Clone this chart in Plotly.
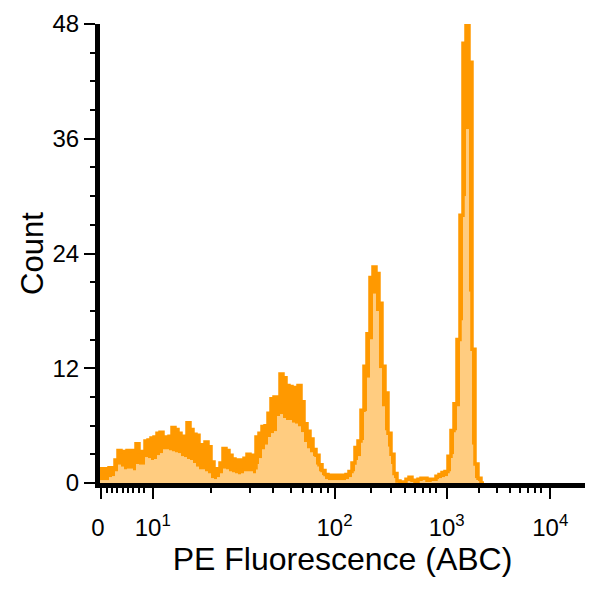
import numpy as np
import plotly.graph_objects as go

# histogram counts per display channel (top of the noisy trace and its floor)
counts_upper = [
    1.5, 1.5, 1.2, 1.6, 1.6, 2.4, 3.4, 3.3, 2.5, 3.4,
    3.4, 2.5, 4.1, 3.3, 3.2, 4.4, 4.5, 4.7, 4.8, 5.2,
    5.3, 4.7, 4.8, 4.9, 5.8, 5.6, 5.2, 4.9, 4.8, 6.3,
    5.6, 5.1, 5.0, 4.0, 3.7, 4.3, 3.8, 2.2, 1.5, 1.5,
    2.1, 3.6, 3.4, 2.9, 2.5, 2.4, 1.7, 2.4, 2.6, 3.0,
    2.9, 1.6, 4.8, 5.2, 5.9, 6.0, 7.3, 8.8, 9.0, 8.5,
    11.4, 11.0, 10.2, 10.1, 9.6, 10.0, 10.2, 8.5, 6.2, 5.4,
    4.6, 3.5, 2.9, 1.9, 1.3, 0.9, 0.8, 0.8, 0.6, 0.8,
    0.7, 0.8, 0.9, 1.2, 2.1, 3.7, 4.4, 7.6, 12.2, 15.6,
    21.5, 22.6, 21.9, 18.8, 12.2, 9.4, 5.2, 3.0, 1.0, 0.2,
    0.1, 0.1, 0.4, 0.6, 0.3, 0.1, 0.4, 0.5, 0.5, 0.3,
    0.4, 0.4, 0.7, 0.9, 1.1, 1.2, 2.8, 5.5, 8.3, 15.0,
    28.0, 46.0, 48.0, 44.0, 14.0, 2.0, 0.5, 0.0,
]
counts_lower = [
    0.3, 0.3, 0.3, 0.6, 0.7, 1.2, 1.9, 1.7, 1.4, 1.5,
    1.5, 1.3, 2.0, 1.9, 1.9, 2.7, 2.6, 2.4, 2.5, 2.9,
    3.1, 3.5, 3.5, 3.4, 3.3, 3.2, 3.1, 2.8, 2.7, 2.5,
    2.4, 2.1, 1.7, 1.4, 1.4, 1.2, 1.0, 0.5, 0.4, 0.6,
    1.0, 1.5, 1.4, 1.2, 1.1, 1.0, 0.9, 1.0, 1.2, 1.2,
    1.2, 1.0, 2.0, 2.6, 3.5, 4.0, 4.8, 5.2, 5.4, 7.0,
    7.2, 6.8, 6.6, 6.6, 6.3, 6.2, 5.9, 5.3, 4.3, 3.6,
    3.2, 2.8, 1.9, 1.2, 0.8, 0.4, 0.3, 0.3, 0.3, 0.3,
    0.3, 0.3, 0.4, 0.6, 1.2, 2.4, 2.8, 4.5, 7.5, 11.0,
    15.0, 19.8, 18.0, 12.0, 8.0, 5.5, 3.8, 2.0, 0.5, 0.1,
    0.05, 0.05, 0.2, 0.3, 0.1, 0.05, 0.2, 0.3, 0.3, 0.1,
    0.2, 0.2, 0.4, 0.5, 0.6, 0.7, 1.2, 3.0, 5.5, 8.0,
    17.0, 30.0, 37.0, 20.0, 4.0, 0.5, 0.2, 0.0,
]

# ABC calibration: bead value -> display channel
cal_abc = [0, 8, 10, 20, 30, 50, 100, 200, 300, 500, 1000, 2000, 3000, 5000, 10000]
cal_channel = [0.43, 14.67, 17.57, 36.9, 50.0, 63.77, 78.17, 90.23, 97.0, 105.0,
               115.57, 126.33, 132.23, 140.0, 150.1]

major_abc = [0, 10, 100, 1000, 10000]
major_text = ["0\u00a0", "10<sup>1</sup>", "10<sup>2</sup>", "10<sup>3</sup>", "10<sup>4</sup>"]
minor_abc = ([1, 2, 3, 4, 5, 6, 7, 8]
             + [20, 30, 40, 50, 60, 70, 80, 90]
             + [200, 300, 400, 500, 600, 700, 800]
             + [2000, 3000, 4000, 5000, 6000, 7000, 8000])

y_major = [0, 12, 24, 36, 48]


def abc_to_channel(v):
    if v <= 10:
        return float(np.interp(v, cal_abc[:3], cal_channel[:3]))
    return float(np.interp(np.log10(v), np.log10(cal_abc[2:]), cal_channel[2:]))


n = len(counts_upper)
edges = list(range(n + 1))
y_up = counts_upper + [0]
y_lo = counts_lower + [0]

orange = "#FF9900"
light = "#FFCC80"
font_family = "Liberation Sans, Arial, sans-serif"

fig = go.Figure()
fig.add_trace(go.Scatter(
    x=edges, y=y_lo, mode="lines", line_shape="hv",
    line=dict(width=0, color=light), fill="tozeroy", fillcolor=light,
    hoverinfo="skip", showlegend=False,
))
fig.add_trace(go.Scatter(
    x=edges, y=y_up, mode="lines", line_shape="hv",
    line=dict(width=3.5, color=orange), fill="tonexty", fillcolor=orange,
    showlegend=False,
))

axis_style = dict(
    showline=True, linewidth=5, linecolor="black",
    ticks="outside", ticklen=11, tickwidth=2, tickcolor="black",
    showgrid=False, zeroline=False, automargin=False,
    tickfont=dict(family=font_family, size=24, color="black"),
)

fig.update_xaxes(
    range=[0, 161.67],
    tickmode="array",
    tickvals=[abc_to_channel(v) for v in major_abc],
    ticktext=major_text,
    ticklabelstandoff=8,
    minor=dict(tickmode="array", tickvals=[abc_to_channel(v) for v in minor_abc],
               ticks="outside", ticklen=5, tickwidth=2, tickcolor="black", showgrid=False),
    title=dict(text="PE Fluorescence (ABC)", standoff=6,
               font=dict(family=font_family, size=32, color="black")),
    **axis_style,
)
fig.update_yaxes(
    range=[0, 48],
    tickmode="array",
    tickvals=y_major,
    minor=dict(dtick=3, ticks="outside", ticklen=5, tickwidth=2, tickcolor="black", showgrid=False),
    title=dict(text="Count", standoff=1,
               font=dict(family=font_family, size=31, color="black")),
    **axis_style,
)

fig.update_layout(
    width=600, height=600,
    margin=dict(l=100, r=15, t=24, b=117),
    plot_bgcolor="white", paper_bgcolor="white",
)

fig.write_html(
    "out.html",
    config={"displayModeBar": False},
    post_script="document.body.style.margin = '0';",
)
